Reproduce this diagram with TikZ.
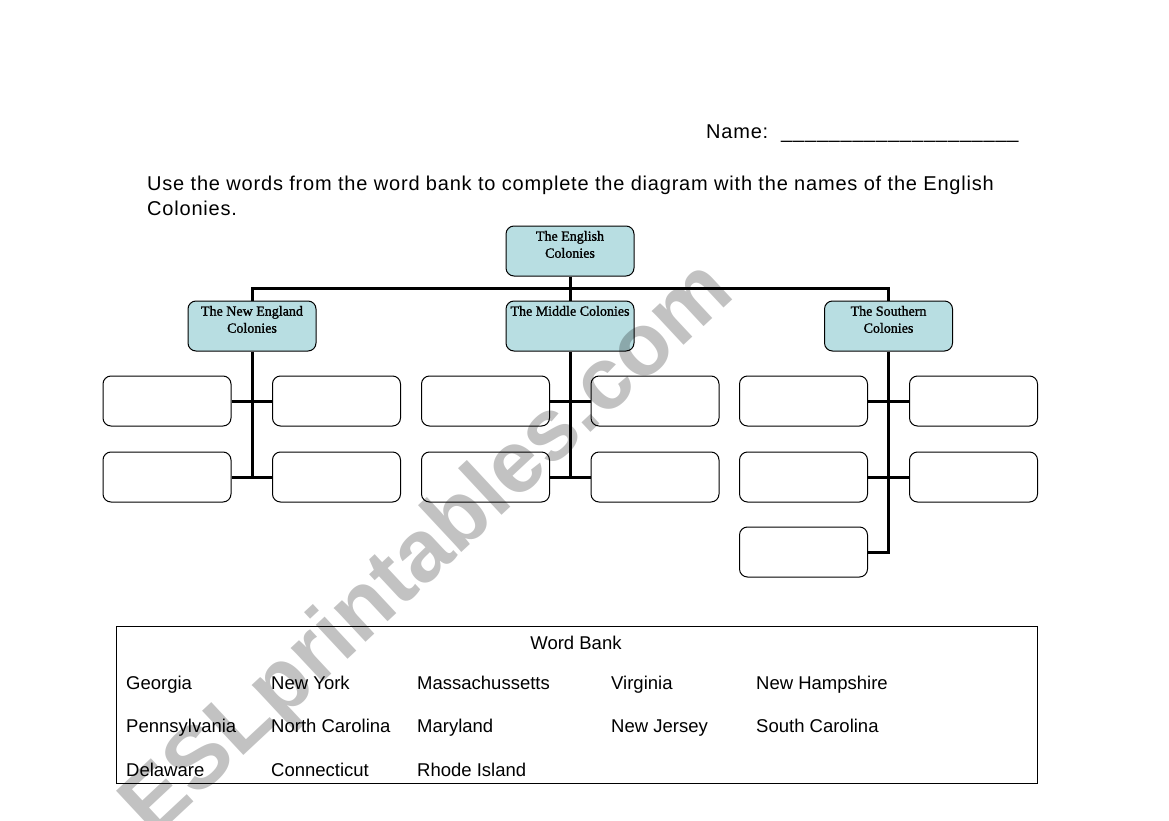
\documentclass[tikz,border=0pt]{standalone}
\usepackage{fontspec}
\setmainfont{Liberation Sans}
\newfontfamily\boxfont[FakeBold=1.2]{Liberation Serif}
\newfontfamily\taskfont[LetterSpace=4]{Liberation Sans}
\definecolor{headfill}{RGB}{184,222,226}

\tikzset{
  head/.style={draw, rounded corners=8pt, fill=headfill, line width=1pt,
    minimum width=128pt, minimum height=50pt, inner sep=0pt,
    font=\boxfont\fontsize{14}{17}\selectfont},
  leaf/.style={draw, rounded corners=8pt, line width=1pt,
    minimum width=128pt, minimum height=50pt},
  conn/.style={line width=3pt},
  word/.style={anchor=base west, inner sep=0pt, font=\fontsize{18.5}{22}\selectfont},
  task/.style={anchor=base west, inner sep=0pt, font=\taskfont\fontsize{20}{24}\selectfont},
  wmark/.style={anchor=base east, inner sep=0pt, rotate=43, text=black,
    text opacity=0.24, font=\fontsize{88}{88}\selectfont\bfseries}
}
\newcommand{\headtext}[1]{\parbox[c][40pt][t]{124pt}{\centering #1}}

\begin{document}
\begin{tikzpicture}[x=1pt, y=-1pt]
  \useasboundingbox (0,0) rectangle (1169,821);

  % heading
  \node[task] (name) at (706,139) {Name:\ \ \_\_\_\_\_\_\_\_\_\_\_\_\_\_\_\_\_\_\_\_};
  \node[task] (task1) at (147,190) {Use the words from the word bank to complete the diagram with the names of the English};
  \node[task] (task2) at (147,215) {Colonies.};

  % chart heads
  \node[head] (eng) at (570,251) {\headtext{The English\\Colonies}};
  \node[head] (ne) at (252,326) {\headtext{The New England\\Colonies}};
  \node[head] (mid) at (570,326) {\headtext{The Middle Colonies}};
  \node[head] (so) at (888.5,326) {\headtext{The Southern\\Colonies}};

  % empty boxes
  \node[leaf] (ne1) at (167,401) {};
  \node[leaf] (ne2) at (336.5,401) {};
  \node[leaf] (ne3) at (167,477) {};
  \node[leaf] (ne4) at (336.5,477) {};

  \node[leaf] (mid1) at (485.5,401) {};
  \node[leaf] (mid2) at (655,401) {};
  \node[leaf] (mid3) at (485.5,477) {};
  \node[leaf] (mid4) at (655,477) {};

  \node[leaf] (so1) at (803.5,401) {};
  \node[leaf] (so2) at (973.5,401) {};
  \node[leaf] (so3) at (803.5,477) {};
  \node[leaf] (so4) at (973.5,477) {};
  \node[leaf] (so5) at (803.5,552) {};

  % connectors
  \coordinate (bar) at (570,288);
  \draw[conn] (ne.north) -- (ne.north |- bar) -- (so.north |- bar) -- (so.north);
  \draw[conn] (eng.south) -- (mid.north);

  \draw[conn] (ne.south) -- (ne.south |- ne4.west);
  \draw[conn] (ne1.east) -- (ne2.west);
  \draw[conn] (ne3.east) -- (ne4.west);

  \draw[conn] (mid.south) -- (mid.south |- mid4.west);
  \draw[conn] (mid1.east) -- (mid2.west);
  \draw[conn] (mid3.east) -- (mid4.west);

  \draw[conn] (so.south) |- (so5.east);
  \draw[conn] (so1.east) -- (so2.west);
  \draw[conn] (so3.east) -- (so4.west);

  % word bank
  \node[draw, line width=1pt, minimum width=921pt, minimum height=157pt, inner sep=0pt] (bank) at (576.5,704.5) {};
  \node[word, anchor=base] (banktitle) at (576,649) {Word Bank};
  \node[word] (w1) at (126,689) {Georgia};
  \node[word] (w2) at (271,689) {New York};
  \node[word] (w3) at (417,689) {Massachussetts};
  \node[word] (w4) at (611,689) {Virginia};
  \node[word] (w5) at (756,689) {New Hampshire};
  \node[word] (w6) at (126,732) {Pennsylvania};
  \node[word] (w7) at (271,732) {North Carolina};
  \node[word] (w8) at (417,732) {Maryland};
  \node[word] (w9) at (611,732) {New Jersey};
  \node[word] (w10) at (756,732) {South Carolina};
  \node[word] (w11) at (126,776) {Delaware};
  \node[word] (w12) at (271,776) {Connecticut};
  \node[word] (w13) at (417,776) {Rhode Island};

  % watermark
  \node[wmark] (wm) at (737,296) {ESLprintables.com};
\end{tikzpicture}
\end{document}
